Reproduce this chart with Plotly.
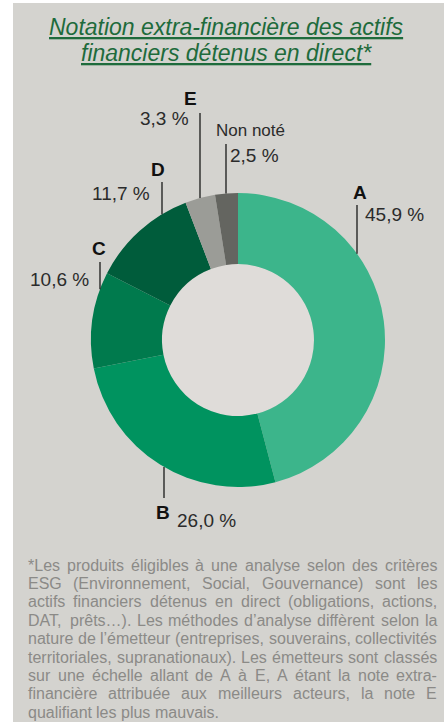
import math
import plotly.graph_objects as go

# ---------------- data ----------------
categories = ["A", "B", "C", "D", "E", "Non noté"]
values = [45.9, 26.0, 10.6, 11.7, 3.3, 2.5]
value_labels = ["45,9 %", "26,0 %", "10,6 %", "11,7 %", "3,3 %", "2,5 %"]
colors = ["#3cb58b", "#00935f", "#007a4d", "#005c3b", "#9b9c97", "#646560"]

title_lines = ["Notation extra-financière des actifs",
               "financiers détenus en direct*"]

footnote_lines = [
    "*Les produits éligibles à une analyse selon des critères",
    "ESG (Environnement, Social, Gouvernance) sont les",
    "actifs financiers détenus en direct (obligations, actions,",
    "DAT, prêts…). Les méthodes d’analyse diffèrent selon la",
    "nature de l’émetteur (entreprises, souverains, collectivités",
    "territoriales, supranationaux). Les émetteurs sont classés",
    "sur une échelle allant de A à E, A étant la note extra-",
    "financière attribuée aux meilleurs acteurs, la note E",
    "qualifiant les plus mauvais.",
]

# ---------------- layout constants (pixels) ----------------
W, H = 444, 722
BG = "#d4d3cf"
HOLE_BG = "#dfdcd9"
CX, CY, R = 238, 340, 147
HOLE = 0.517
FONT = "Liberation Sans, Arial, sans-serif"


def px(x):
    return x / W


def py(y):
    return 1 - y / H


fig = go.Figure()

fig.add_trace(go.Pie(
    labels=categories,
    values=values,
    marker=dict(colors=colors, line=dict(width=0)),
    sort=False,
    direction="clockwise",
    rotation=0,
    hole=HOLE,
    textinfo="none",
    hoverinfo="label+percent",
    showlegend=False,
    domain=dict(x=[px(CX - R), px(CX + R)], y=[py(CY + R), py(CY - R)]),
))

shapes = [
    # white strips around the panel
    dict(type="rect", xref="paper", yref="paper", x0=0, x1=px(13), y0=0, y1=1,
         fillcolor="white", line=dict(width=0), layer="below"),
    dict(type="rect", xref="paper", yref="paper", x0=0, x1=1, y0=py(3), y1=1,
         fillcolor="white", line=dict(width=0), layer="below"),
    # lighter donut centre
    dict(type="circle", xref="paper", yref="paper",
         x0=px(CX - R * HOLE), x1=px(CX + R * HOLE),
         y0=py(CY + R * HOLE), y1=py(CY - R * HOLE),
         fillcolor=HOLE_BG, line=dict(width=0), layer="below"),
]
annotations = []

# label placement: letter centre, value anchor, leader line x & free end y
label_layout = {
    "A": dict(letter=(360, 192), val=(363, 215, "left"), line_x=357, line_end=205, side="top"),
    "B": dict(letter=(163, 512), val=(175, 520, "left"), line_x=164, line_end=498, side="bottom"),
    "C": dict(letter=(99, 248), val=(91, 279, "right"), line_x=100, line_end=262, side="top"),
    "D": dict(letter=(158, 170), val=(152, 193, "right"), line_x=162, line_end=182, side="top"),
    "E": dict(letter=(190, 98), val=(191, 118, "right"), line_x=200, line_end=113, side="top"),
    "Non noté": dict(letter=(249, 131), val=(228, 155, "left"), line_x=226, line_end=144, side="top"),
}

VAL_SIZE = 19
for cat, vlab in zip(categories, value_labels):
    L = label_layout[cat]
    lx = L["line_x"]
    dy = math.sqrt(max(R * R - (lx - CX) ** 2, 0))
    edge = CY - dy if L["side"] == "top" else CY + dy
    shapes.append(dict(type="line", xref="paper", yref="paper",
                       x0=px(lx), x1=px(lx), y0=py(L["line_end"]), y1=py(edge),
                       line=dict(color="#1a1a1a", width=1.3)))
    if cat == "Non noté":
        annotations.append(dict(x=px(214), y=py(131), xref="paper", yref="paper",
                                text=cat, showarrow=False, xanchor="left", yanchor="middle",
                                font=dict(family=FONT, size=17, color="#2b2b2b")))
    else:
        annotations.append(dict(x=px(L["letter"][0]), y=py(L["letter"][1]),
                                xref="paper", yref="paper", text="<b>%s</b>" % cat,
                                showarrow=False, xanchor="center", yanchor="middle",
                                font=dict(family=FONT, size=19, color="#111111")))
    vx, vy, anc = L["val"]
    annotations.append(dict(x=px(vx), y=py(vy), xref="paper", yref="paper", text=vlab,
                            showarrow=False, xanchor=anc, yanchor="middle",
                            font=dict(family=FONT, size=VAL_SIZE, color="#2b2b2b")))

# title
for i, t in enumerate(title_lines):
    annotations.append(dict(x=px(226), y=py(27 + 26 * i), xref="paper", yref="paper",
                            text=t, showarrow=False, xanchor="center", yanchor="middle",
                            font=dict(family=FONT, size=23, color="#1e6b3c",
                                      style="italic", lineposition="under")))

# footnote, justified word by word using Arial/Liberation Sans metrics
AW = {' ': 278, 'a': 556, 'b': 556, 'c': 500, 'd': 556, 'e': 556, 'f': 278, 'g': 556,
      'h': 556, 'i': 222, 'j': 222, 'k': 500, 'l': 222, 'm': 833, 'n': 556, 'o': 556,
      'p': 556, 'q': 556, 'r': 333, 's': 500, 't': 278, 'u': 556, 'v': 500, 'w': 722,
      'x': 500, 'y': 500, 'z': 500, 'é': 556, 'è': 556, 'ê': 556, 'à': 556,
      'A': 667, 'C': 722, 'D': 722, 'E': 667, 'G': 778, 'L': 556, 'S': 667, 'T': 611,
      '(': 333, ')': 333, ',': 278, '.': 278, '-': 333, '*': 389, '…': 1000, '’': 222}
FN_SIZE = 16
FN_LEFT, FN_RIGHT = 27, 436
FN_Y0, FN_PITCH = 565, 18.4


def wwidth(word):
    return sum(AW.get(ch, 556) for ch in word) * FN_SIZE / 1000.0


for li, line in enumerate(footnote_lines):
    y = FN_Y0 + FN_PITCH * li
    words = line.split(" ")
    widths = [wwidth(w) for w in words]
    last = li == len(footnote_lines) - 1
    if last or len(words) < 2:
        gap = wwidth(" ")
    else:
        gap = (FN_RIGHT - FN_LEFT - sum(widths)) / (len(words) - 1)
    x = FN_LEFT
    for w, wd in zip(words, widths):
        annotations.append(dict(x=px(x), y=py(y), xref="paper", yref="paper", text=w,
                                showarrow=False, xanchor="left", yanchor="middle",
                                borderpad=0,
                                font=dict(family=FONT, size=FN_SIZE, color="#8b8a87")))
        x += wd + gap

fig.update_layout(
    width=W, height=H, autosize=False,
    margin=dict(l=0, r=0, t=0, b=0),
    paper_bgcolor=BG, plot_bgcolor=BG,
    shapes=shapes, annotations=annotations,
    showlegend=False,
)

fig.write_html("out.html")
